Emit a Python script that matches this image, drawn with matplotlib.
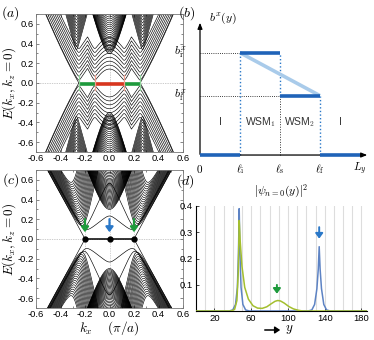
import numpy as np
import matplotlib
matplotlib.use("Agg")
import matplotlib.pyplot as plt
from matplotlib.patches import FancyArrowPatch

plt.rcParams['font.family'] = ['Liberation Sans', 'DejaVu Sans']
plt.rcParams['mathtext.fontset'] = 'cm'
plt.rcParams['font.size'] = 7

W, H = 374, 340

# ---- data ----
# panel (a): two Weyl regions (nodes at 0.25 and 0.12)
nodes_a = [0.25, 0.12]
hump_a = [0.30, 0.13]
vel_a = [3.3, 3.8]
low_a = [0.03, 0.07, 0.11, 0.15, 0.19, 0.23, 0.27, 0.31, 0.35]     # band minima at the nodes
high_a = [0.34, 0.37, 0.40, 0.43, 0.46, 0.49, 0.52, 0.55, 0.58, 0.61, 0.64, 0.67]  # side cones
side_a = 0.27
bowl_a = [0.30, 0.315, 0.33, 0.345, 0.36, 0.375, 0.39, 0.41, 0.43, 0.45, 0.47, 0.49,
          0.51, 0.53, 0.55, 0.57, 0.59, 0.61, 0.63, 0.65, 0.67, 0.69]
arc_green = [(-0.25, -0.12), (0.12, 0.25)]
arc_red = [(-0.12, 0.12)]

# panel (c): single Weyl region (nodes at 0.2)
node_c = 0.20
band_min_c = [0.10, 0.125, 0.15, 0.172, 0.194, 0.216, 0.238, 0.26, 0.282, 0.304,
              0.326, 0.348, 0.37, 0.392, 0.414, 0.436, 0.458, 0.48, 0.502, 0.524,
              0.546, 0.568, 0.59]
slope_in_c = [1.1, 3.0] + [6.0] * 21
bowl_c = [0.30, 0.312, 0.324, 0.336, 0.348, 0.36, 0.372, 0.384, 0.396, 0.408,
          0.42, 0.432, 0.444, 0.456, 0.468, 0.48, 0.492, 0.504, 0.516, 0.528,
          0.54, 0.552, 0.564, 0.576, 0.588, 0.60, 0.615, 0.63, 0.645, 0.66,
          0.675, 0.69]
dots_c = [-0.2, 0.0, 0.2]
arrows_c = [(-0.2, 'green'), (0.0, 'blue'), (0.2, 'green')]

# panel (b): schematic profile of b^x(y)
pos_b = [0, 1, 2, 3, 4]                     # 0, l_i, l_s, l_f, L_y
pos_labels = [r'$0$', r'$\ell_{\rm i}$', r'$\ell_{\rm s}$', r'$\ell_{\rm f}$', r'$L_y$']
b_i, b_f = 1.0, 0.58
regions = ['I', r'WSM$_1$', r'WSM$_2$', 'I']

# panel (d): |psi_{n=0}(y)|^2
y_blue = [0, 36, 40, 43, 45, 46.2, 47, 47.8, 49, 51, 54, 58, 122, 126, 129, 131.5,
          133, 134, 135, 136.5, 139, 142, 146, 186]
v_blue = [0, 0, 0.004, 0.025, 0.09, 0.22, 0.39, 0.22, 0.09, 0.025, 0.004, 0, 0,
          0.004, 0.025, 0.085, 0.16, 0.245, 0.16, 0.085, 0.025, 0.004, 0, 0]
y_green = [0, 38, 42, 44.5, 46, 47, 48, 50, 53, 57, 62, 67, 72, 77, 82, 86, 89,
           92, 96, 101, 106, 111, 116, 186]
v_green = [0, 0, 0.006, 0.04, 0.15, 0.345, 0.27, 0.17, 0.09, 0.045, 0.02, 0.011,
           0.01, 0.016, 0.028, 0.037, 0.04, 0.038, 0.03, 0.017, 0.008, 0.003, 0, 0]
grid_d = list(range(10, 190, 10))

GREEN = '#1e9a3c'
RED = '#d8361f'
BLUE = '#2a78c8'
DARKBLUE = '#1f63b8'
LIGHTBLUE = '#a9cbea'


def px_axes(fig, left, top, right, bottom):
    return fig.add_axes([left / W, 1 - bottom / H, (right - left) / W, (bottom - top) / H])


def branch(k, k0, h, v):
    s = v * v * k0 * k0 / h
    b = 0.5 * (h + s)
    m = 0.5 * (s - h)
    return np.sqrt(v * v * k * k + m * m) - b


def asym(kk, kn, en, s_out, s_in, r):
    x = kk - kn
    a = 0.5 * (s_out - s_in)
    b = 0.5 * (s_out + s_in)
    return en + a * x + b * (np.sqrt(x * x + r * r) - r)


def frame(ax):
    ax.set_xlim(-0.6, 0.6)
    ax.set_ylim(-0.7, 0.7)
    ax.set_xticks([-0.6, -0.4, -0.2, 0.0, 0.2, 0.4, 0.6])
    ax.set_yticks([-0.6, -0.4, -0.2, 0.0, 0.2, 0.4, 0.6])
    ax.set_xticks(np.arange(-0.6, 0.61, 0.1), minor=True)
    ax.set_yticks(np.arange(-0.7, 0.71, 0.1), minor=True)
    ax.xaxis.set_major_formatter(matplotlib.ticker.FormatStrFormatter('%.1f'))
    ax.yaxis.set_major_formatter(matplotlib.ticker.FormatStrFormatter('%.1f'))
    ax.tick_params(which='both', direction='in', top=True, right=True, width=0.5,
                   labelsize=6.8, pad=1.5, color='#555555')
    ax.tick_params(which='major', length=2.5)
    ax.tick_params(which='minor', length=1.3)
    for s in ax.spines.values():
        s.set_linewidth(0.6)
        s.set_color('#777777')


fig = plt.figure(figsize=(W / 100, H / 100), dpi=100)
k = np.linspace(-0.62, 0.62, 1241)
ak = np.abs(k)
lw_band = 0.45


def both(ax, y):
    ax.plot(k, y, 'k', lw=lw_band)
    ax.plot(k, -y, 'k', lw=lw_band)


# ---------- (a) ----------
axa = px_axes(fig, 36, 14, 183, 152)
frame(axa)
axa.axhline(0, color='#999999', lw=0.5, ls=(0, (1, 1.5)), zorder=0)
axa.axvline(0, color='#999999', lw=0.5, ls=(0, (1, 1.5)), zorder=0)
gA = branch(k, nodes_a[0], hump_a[0], vel_a[0])
gB = branch(k, nodes_a[1], hump_a[1], vel_a[1])
G = np.minimum(np.abs(gA), np.abs(gB))
dl = 0.02
for d in low_a:
    both(axa, d + np.sqrt(G ** 2 + dl ** 2) - dl)
for e0 in high_a:
    for kc in (-side_a, side_a):
        both(axa, asym(np.abs(k - kc), 0, e0, 4.6, 4.6, 0.01))
for e0 in bowl_a:
    both(axa, np.sqrt(e0 ** 2 + (4.6 * k) ** 2))
both(axa, np.where(ak >= nodes_a[0], gA, np.nan))
axa.plot([-0.25, 0.25], [0, 0], 'k', lw=0.8, zorder=4)
for x0, x1 in arc_green:
    axa.plot([x0, x1], [-0.012, -0.012], color=GREEN, lw=2.6, solid_capstyle='butt', zorder=5)
for x0, x1 in arc_red:
    axa.plot([x0, x1], [-0.012, -0.012], color=RED, lw=2.6, solid_capstyle='butt', zorder=5)
for x in (-0.25, 0.25):
    axa.plot([x, x], [-0.075, 0.08], color='#8fd49a', lw=0.9, zorder=5)
for x in (-0.12, 0.12):
    axa.plot([x, x], [-0.075, 0.08], color='#f0a090', lw=0.9, zorder=5)
axa.set_ylabel(r'$E(k_x,k_z=0)$', fontsize=9.5, labelpad=0)

# ---------- (c) ----------
axc = px_axes(fig, 36, 170, 183, 308)
frame(axc)
axc.axhline(0, color='#999999', lw=0.5, ls=(0, (1, 1.5)), zorder=0)
for x in dots_c:
    axc.plot([x, x], [-0.3, 0.3], color='#aaaaaa', lw=0.5, ls=(0, (1, 1.5)), zorder=0)
ks = np.sqrt(k ** 2 + 0.03 ** 2)
for en, s_in in zip(band_min_c, slope_in_c):
    kn = node_c + 0.2 * (en - band_min_c[0])
    both(axc, asym(ks, kn, en, 2.3, s_in, 0.035))
for e0 in bowl_c:
    both(axc, np.sqrt(e0 ** 2 + (3.5 * k) ** 2))
both(axc, np.where(ak >= node_c, 2.3 * (ak - node_c), np.nan))
axc.plot([-node_c, node_c], [0, 0], 'k', lw=1.1, zorder=4)
axc.plot(dots_c, [0, 0, 0], 'ko', ms=3.5, zorder=5)
for x, c in arrows_c:
    col = GREEN if c == 'green' else BLUE
    axc.add_patch(FancyArrowPatch((x, 0.23), (x, 0.04), arrowstyle='-|>,head_length=3,head_width=2.2',
                                  color=col, lw=1.6, mutation_scale=1, zorder=6))
axc.set_ylabel(r'$E(k_x,k_z=0)$', fontsize=9.5, labelpad=0)
axc.set_xlabel(r'$k_x\quad\ (\pi/a)$', fontsize=9.5, labelpad=0)

# ---------- (b) ----------
axb = px_axes(fig, 190, 12, 374, 176)
axb.set_xlim(-0.25, 4.35)
axb.set_ylim(-0.205, 1.398)
axb.axis('off')
axb.annotate('', xy=(4.25, 0), xytext=(-0.05, 0),
             arrowprops=dict(arrowstyle='-|>,head_length=0.5,head_width=0.2', color='k', lw=0.9))
axb.annotate('', xy=(0, 1.32), xytext=(0, -0.02),
             arrowprops=dict(arrowstyle='-|>,head_length=0.5,head_width=0.2', color='k', lw=0.9))
l0, li, ls_, lf, Ly = pos_b
axb.plot([l0, li], [0, 0], color=DARKBLUE, lw=2.6, solid_capstyle='butt', zorder=4)
axb.plot([lf, Ly], [0, 0], color=DARKBLUE, lw=2.6, solid_capstyle='butt', zorder=4)
axb.plot([li, lf], [b_i, b_f], color=LIGHTBLUE, lw=2.6, solid_capstyle='butt', zorder=3)
axb.plot([li, ls_], [b_i, b_i], color=DARKBLUE, lw=2.6, solid_capstyle='butt', zorder=4)
axb.plot([ls_, lf], [b_f, b_f], color=DARKBLUE, lw=2.6, solid_capstyle='butt', zorder=4)
dot = (0, (1, 1.6))
axb.plot([l0, li], [b_i, b_i], color='k', lw=0.6, ls=dot)
axb.plot([l0, ls_], [b_f, b_f], color='k', lw=0.6, ls=dot)
axb.plot([li, li], [0, b_i], color=BLUE, lw=1.0, ls=dot)
axb.plot([ls_, ls_], [b_f, b_i], color=BLUE, lw=1.0, ls=dot)
axb.plot([ls_, ls_], [0, b_f], color='#333333', lw=0.7, ls=dot)
axb.plot([lf, lf], [0, b_f], color=BLUE, lw=1.0, ls=dot)
for x, lab in zip(pos_b, pos_labels):
    axb.text(x, -0.135, lab, ha='center', va='center', fontsize=8)
for i, lab in enumerate(regions):
    axb.text(0.5 * (pos_b[i] + pos_b[i + 1]), 0.32, lab, ha='center', va='center', fontsize=7.5,
             color='#333333')
axb.text(-0.5, b_i, r'$b_{\rm i}^x$', ha='center', va='center', fontsize=8.5, clip_on=False)
axb.text(-0.5, b_f, r'$b_{\rm f}^x$', ha='center', va='center', fontsize=8.5, clip_on=False)
axb.text(0.58, 1.34, r'$b^x(y)$', ha='center', va='center', fontsize=8.5)

# ---------- (d) ----------
axd = px_axes(fig, 196, 206, 367, 311)
axd.set_xlim(0, 186)
axd.set_ylim(0, 0.4)
for x in grid_d:
    axd.axvline(x, color='#dddddd', lw=0.8, zorder=0)
axd.plot(y_green, v_green, color='#a4bf2e', lw=1.1, zorder=3)
axd.plot(y_blue, v_blue, color='#5d83c4', lw=1.1, zorder=2)
axd.spines['top'].set_visible(False)
axd.spines['right'].set_visible(False)
for s in ('left', 'bottom'):
    axd.spines[s].set_linewidth(0.8)
axd.set_xticks([20, 60, 100, 140, 180])
axd.set_yticks([0.1, 0.2, 0.3, 0.4])
axd.set_yticklabels(['0.1', '0.2', '0.3', '0.4'])
axd.tick_params(direction='in', length=2, width=0.5, labelsize=6.8, pad=2)
axd.add_patch(FancyArrowPatch((134, 0.33), (134, 0.265), arrowstyle='-|>,head_length=3,head_width=2.2',
                              color=BLUE, lw=1.4, mutation_scale=1, zorder=6))
axd.add_patch(FancyArrowPatch((88, 0.11), (88, 0.055), arrowstyle='-|>,head_length=3,head_width=2.2',
                              color=GREEN, lw=1.4, mutation_scale=1, zorder=6))
axd.set_title(r'$|\psi_{n=0}(y)|^2$', fontsize=8.5, pad=8)

# x label arrow for (d)
fig.add_artist(FancyArrowPatch((262 / W, 1 - 330 / H), (283 / W, 1 - 330 / H),
                               arrowstyle='-|>,head_length=3,head_width=2', color='k', lw=1.1,
                               mutation_scale=1, transform=fig.transFigure))
fig.text(289 / W, 1 - 330 / H, r'$y$', fontsize=9.5, ha='center', va='center')

# panel labels
for lab, x, y in [('(a)', 10, 13), ('(b)', 187, 13), ('(c)', 11, 180), ('(d)', 185, 181)]:
    fig.text(x / W, 1 - y / H, r'$%s$' % lab, fontsize=10, ha='center', va='center')

fig.savefig('out.png', dpi=100)
